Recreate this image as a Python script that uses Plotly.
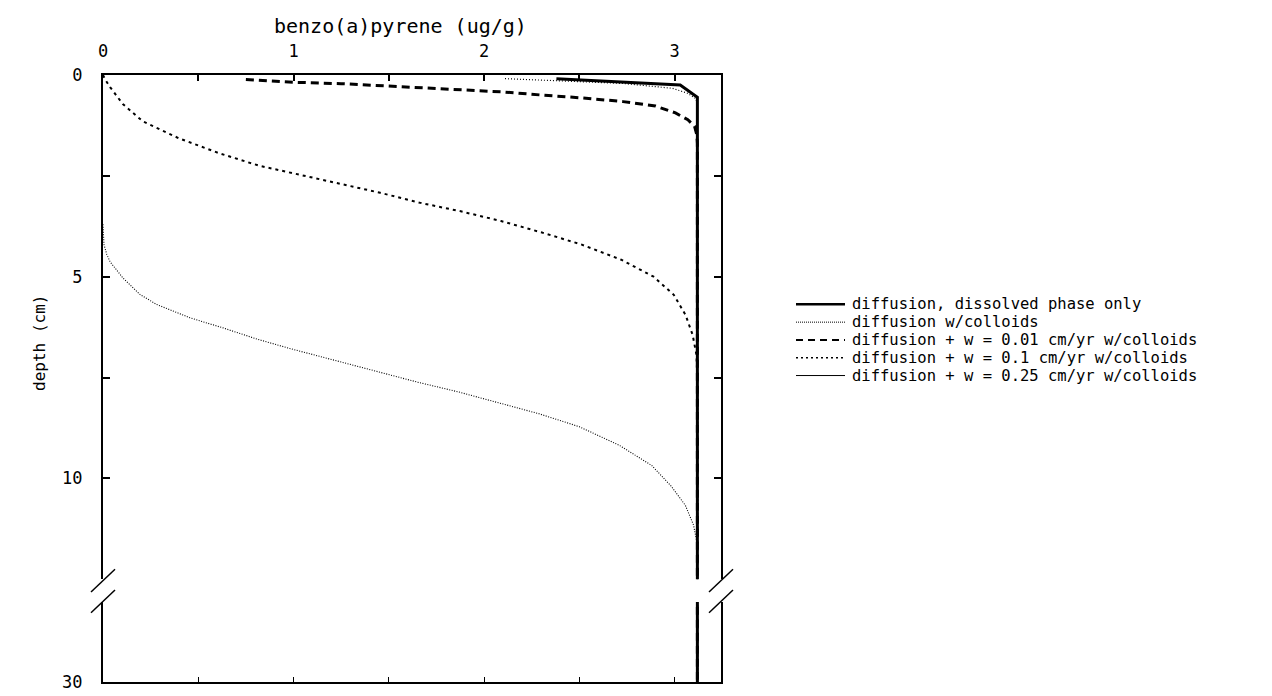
import plotly.graph_objects as go

# ---------------- data ----------------
conc_dissolved = [2.38, 2.73, 3.03, 3.12, 3.12]
depth_dissolved = [0.09, 0.18, 0.25, 0.55, 30.0]

conc_colloids = [2.11, 2.52, 2.73, 2.99, 3.07, 3.11, 3.12, 3.12]
depth_colloids = [0.09, 0.165, 0.21, 0.33, 0.455, 0.58, 0.70, 30.0]

conc_w001 = [0.75, 1.00, 1.25, 1.46, 1.67, 1.885, 2.10, 2.31, 2.52, 2.73, 2.90,
             3.005, 3.07, 3.105, 3.117, 3.12, 3.12]
depth_w001 = [0.11, 0.18, 0.215, 0.265, 0.32, 0.365, 0.42, 0.50, 0.57, 0.66, 0.77,
              0.94, 1.11, 1.27, 1.48, 1.70, 30.0]

conc_w01 = [0.0, 0.01, 0.037, 0.063, 0.089, 0.104, 0.209, 0.399, 0.61, 0.82, 1.03,
            1.244, 1.455, 1.666, 1.878, 2.089, 2.30, 2.51, 2.72, 2.89, 2.996,
            3.058, 3.095, 3.115, 3.12, 3.12]
depth_w01 = [0.0, 0.10, 0.30, 0.47, 0.63, 0.72, 1.15, 1.57, 1.94, 2.25, 2.47,
             2.69, 2.92, 3.17, 3.38, 3.62, 3.90, 4.20, 4.58, 5.00, 5.45,
             5.95, 6.44, 6.93, 7.50, 30.0]

conc_w025 = [0.0, 0.005, 0.02, 0.037, 0.106, 0.194, 0.282, 0.457, 0.63, 0.81, 0.98,
             1.233, 1.444, 1.655, 1.868, 2.078, 2.29, 2.50, 2.71, 2.88, 2.98,
             3.057, 3.10, 3.12, 3.12]
depth_w025 = [3.70, 4.20, 4.45, 4.63, 5.04, 5.44, 5.69, 6.02, 6.27, 6.55, 6.78,
              7.10, 7.37, 7.62, 7.86, 8.12, 8.40, 8.72, 9.18, 9.68, 10.18,
              10.67, 11.16, 11.65, 30.0]

series_names = [
    "diffusion, dissolved phase only",
    "diffusion w/colloids",
    "diffusion + w = 0.01 cm/yr w/colloids",
    "diffusion + w = 0.1 cm/yr w/colloids",
    "diffusion + w = 0.25 cm/yr w/colloids",
]

x_tick_vals = [0, 0.5, 1, 1.5, 2, 2.5, 3]
x_tick_text = ["0", "", "1", "", "2", "", "3"]
y_tick_vals = [0, 2.5, 5, 7.5, 10]
y_tick_text = ["0", "", "5", "", "10"]
y2_tick_vals = [30]
y2_tick_text = ["30"]

x_title = "benzo(a)pyrene (ug/g)"
y_title = "depth (cm)"

# ---------------- styling / layout geometry ----------------
W, H = 1272, 696
L, R, T, B = 95, 713, 67, 681          # frame edges in px
GAP_TOP, GAP_BOT = 577, 600            # axis break in px
FONT = "DejaVu Sans Mono"

def px(xp):
    return (xp - L) / (R - L)

def py(yp):
    return (B - yp) / (B - T)

styles = [
    dict(color="black", width=3),
    dict(color="black", width=1.2, dash="1px,2px"),
    dict(color="black", width=3, dash="8px,5px"),
    dict(color="black", width=2, dash="3px,4px"),
    dict(color="black", width=1.1, dash="1px,1.5px"),
]
legend_styles = [
    dict(color="black", width=2.5),
    dict(color="black", width=1, dash="1px,1px"),
    dict(color="black", width=2, dash="7px,5px"),
    dict(color="black", width=1.5, dash="2px,3px"),
    dict(color="black", width=1),
]

data = [
    (conc_dissolved, depth_dissolved),
    (conc_colloids, depth_colloids),
    (conc_w001, depth_w001),
    (conc_w01, depth_w01),
    (conc_w025, depth_w025),
]

fig = go.Figure()
for (cx, dy), st, name in zip(data, styles, series_names):
    fig.add_trace(go.Scatter(x=cx, y=dy, mode="lines", line=st, name=name,
                             xaxis="x", yaxis="y", showlegend=False, hoverinfo="skip"))
    fig.add_trace(go.Scatter(x=cx, y=dy, mode="lines", line=st, name=name,
                             xaxis="x2", yaxis="y2", showlegend=False, hoverinfo="skip"))

x_range = [0, 3.244]
common_axis = dict(showgrid=False, zeroline=False, showline=True, linecolor="black",
                   linewidth=2, ticks="inside", tickcolor="black",
                   tickfont=dict(family=FONT, size=17, color="black"))

fig.update_layout(
    width=W, height=H, autosize=False,
    margin=dict(l=L, r=W - R, t=T, b=H - B, pad=0),
    paper_bgcolor="white", plot_bgcolor="white",
    showlegend=False, hovermode=False,
    xaxis=dict(**common_axis, domain=[0, 1], anchor="y", side="top", range=x_range,
               tickmode="array", tickvals=x_tick_vals, ticktext=x_tick_text,
               ticklen=6, tickwidth=1.5, ticklabelstandoff=9),
    xaxis2=dict(**common_axis, domain=[0, 1], anchor="y2", side="bottom", range=x_range,
                matches="x", tickmode="array", tickvals=x_tick_vals,
                ticklen=5, tickwidth=1, showticklabels=False),
    yaxis=dict(**common_axis, domain=[py(GAP_TOP), 1], anchor="x", range=[12.5, 0],
               tickmode="array", tickvals=y_tick_vals, ticktext=y_tick_text,
               ticklen=7, tickwidth=2, mirror="ticks", ticklabelstandoff=15),
    yaxis2=dict(**common_axis, domain=[0, py(GAP_BOT)], anchor="x2", range=[30, 28],
                tickmode="array", tickvals=y2_tick_vals, ticktext=y2_tick_text,
                ticklen=0, mirror=True, ticklabelstandoff=15),
)

shapes = []
# axis break marks (left and right)
for xc in (L, R):
    for yc in (GAP_TOP + 1.5, GAP_BOT - 0.5):
        shapes.append(dict(type="line", xref="paper", yref="paper",
                           x0=px(xc - 12), y0=py(yc + 11.5), x1=px(xc + 12), y1=py(yc - 11.5),
                           line=dict(color="black", width=1.5)))

annotations = [
    dict(text=x_title, xref="paper", yref="paper", x=px(392), y=py(17),
         xanchor="center", yanchor="middle", showarrow=False,
         font=dict(family=FONT, size=20, color="black")),
    dict(text=y_title, xref="paper", yref="paper", x=px(32), y=py(338),
         xanchor="center", yanchor="middle", showarrow=False, textangle=-90,
         font=dict(family=FONT, size=16, color="black")),
]

# manual legend
LEG_X0, LEG_X1, LEG_TX = 788, 837, 842
LEG_Y0, LEG_DY = 299, 18
for i, (name, st) in enumerate(zip(series_names, legend_styles)):
    yc = LEG_Y0 + i * LEG_DY
    shapes.append(dict(type="line", xref="paper", yref="paper",
                       x0=px(LEG_X0), x1=px(LEG_X1), y0=py(yc), y1=py(yc), line=st))
    annotations.append(dict(text=name, xref="paper", yref="paper", x=px(LEG_TX), y=py(yc),
                            xanchor="left", yanchor="middle", showarrow=False,
                            font=dict(family=FONT, size=15.5, color="black")))

fig.update_layout(shapes=shapes, annotations=annotations)

fig.write_html("out.html", config={"displayModeBar": False})
